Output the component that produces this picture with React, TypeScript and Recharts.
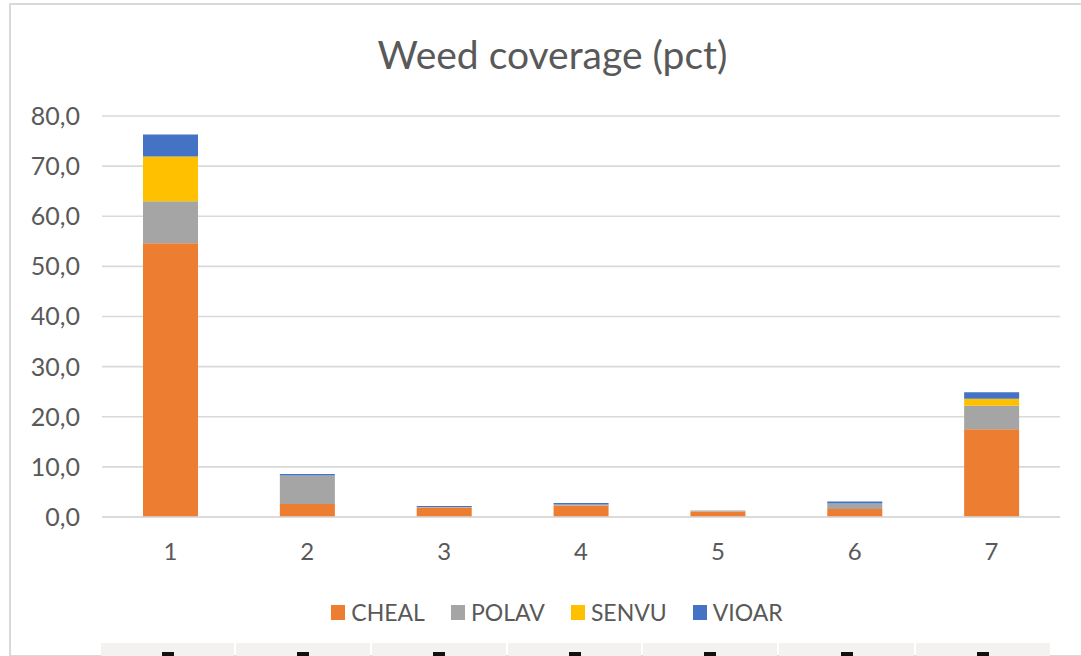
import React from 'react';
import { BarChart, Bar, XAxis, YAxis, CartesianGrid, Legend } from 'recharts';

const categories = ['1', '2', '3', '4', '5', '6', '7'];
const cheal = [54.6, 2.6, 1.9, 2.3, 1.1, 1.6, 17.5];
const polav = [8.4, 5.7, 0.1, 0.2, 0.2, 1.1, 4.7];
const senvu = [8.9, 0, 0, 0, 0, 0, 1.4];
const vioar = [4.4, 0.3, 0.2, 0.3, 0, 0.4, 1.3];
const yTicks = [0, 10, 20, 30, 40, 50, 60, 70, 80];

const seriesNames = ['CHEAL', 'POLAV', 'SENVU', 'VIOAR'];
const seriesColors = ['#ED7D31', '#A5A5A5', '#FFC000', '#4472C4'];

const data = categories.map((c, i) => ({
  name: c,
  CHEAL: cheal[i],
  POLAV: polav[i],
  SENVU: senvu[i],
  VIOAR: vioar[i],
}));

const FONT = 'Lato, "Open Sans", sans-serif';
const TEXT = '#595959';

const fmt = (v: number) => v.toFixed(1).replace('.', ',');

const cellEdges = [101, 236, 372, 508, 643, 779, 916, 1052];

const LegendContent = () => (
  <div
    style={{
      display: 'flex',
      justifyContent: 'center',
      alignItems: 'center',
      paddingTop: 21,
      fontFamily: FONT,
      fontSize: 23,
      color: TEXT,
      paddingLeft: 44,
    }}
  >
    {seriesNames.map((n, i) => (
      <div key={n} style={{ display: 'flex', alignItems: 'center', marginRight: i < 3 ? 26 : 0 }}>
        <span style={{ width: 14, height: 15, background: seriesColors[i], display: 'inline-block', marginRight: 6 }} />
        <span>{n}</span>
      </div>
    ))}
  </div>
);

export default function App() {
  return (
    <div style={{ position: 'fixed', left: 0, top: 0, width: 1081, height: 656, background: '#fff', overflow: 'hidden' }}>
      <div
        style={{
          position: 'absolute',
          left: 9,
          top: 3,
          width: 1200,
          height: 650,
          borderLeft: '2px solid #d9d9d9',
          borderTop: '2px solid #d9d9d9',
          borderBottom: '2px solid #d9d9d9',
        }}
      />
      <div
        style={{
          position: 'absolute',
          left: 0,
          top: 31,
          width: 1105,
          textAlign: 'center',
          fontFamily: FONT,
          fontSize: 39,
          lineHeight: '46px',
          color: TEXT,
        }}
      >
        Weed coverage (pct)
      </div>
      <div style={{ position: 'absolute', left: 0, top: 0 }}>
        <BarChart
          width={1081}
          height={656}
          data={data}
          margin={{ top: 116, right: 21, bottom: 0, left: 10 }}
        >
          <CartesianGrid vertical={false} stroke="#d9d9d9" strokeWidth={1.6} />
          <XAxis
            dataKey="name"
            height={60}
            axisLine={{ stroke: '#d9d9d9', strokeWidth: 1.6 }}
            tickLine={false}
            tickSize={0}
            tickMargin={26}
            tick={{ fill: TEXT, fontSize: 24, fontFamily: FONT }}
          />
          <YAxis
            width={92}
            domain={[0, 80]}
            ticks={yTicks}
            interval={0}
            axisLine={false}
            tickLine={false}
            tickSize={0}
            tickMargin={22}
            tickFormatter={fmt}
            tick={{ fill: TEXT, fontSize: 25, fontFamily: FONT }}
          />
          <Legend
            verticalAlign="bottom"
            height={79}
            wrapperStyle={{ height: 79 }}
            content={() => <LegendContent />}
          />
          {seriesNames.map((n, i) => (
            <Bar key={n} dataKey={n} stackId="a" fill={seriesColors[i]} barSize={55} isAnimationActive={false} />
          ))}
        </BarChart>
      </div>
      {cellEdges.slice(0, -1).map((x, i) => {
        const w = cellEdges[i + 1] - x - 2;
        return (
          <div key={i} style={{ position: 'absolute', left: x, top: 643, width: w, height: 13, background: '#f3f2f1' }}>
            <div style={{ position: 'absolute', left: w / 2 - 6, top: 9, width: 12, height: 6, background: '#111' }} />
          </div>
        );
      })}
    </div>
  );
}
